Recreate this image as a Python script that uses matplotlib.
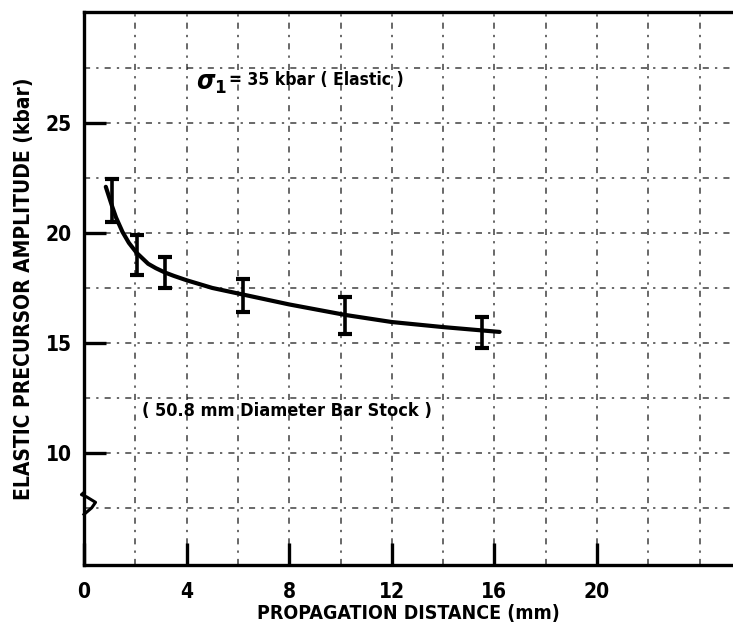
import numpy as np
from matplotlib import pyplot as plt

# measured points with error bars (propagation distance mm, amplitude kbar)
dist = [1.08, 2.05, 3.16, 6.2, 10.18, 15.5]
amp_hi = [22.45, 19.9, 18.9, 17.9, 17.1, 16.2]
amp_lo = [20.5, 18.1, 17.5, 16.4, 15.4, 14.75]

# fitted curve
curve_x = [0.85, 1.1, 1.25, 1.5, 1.75, 2.05, 2.5, 2.8, 3.16, 3.5, 4.0, 5.0, 6.2, 8.0, 10.2, 12.0, 14.0, 16.2]
curve_y = [22.1, 21.2, 20.7, 20.05, 19.55, 19.1, 18.6, 18.4, 18.2, 18.05, 17.85, 17.5, 17.2, 16.75, 16.27, 15.95, 15.72, 15.5]

xticks = [0, 4, 8, 12, 16, 20]
yticks = [10, 15, 20, 25]

plt.rcParams['font.family'] = ['DejaVu Sans']
plt.rcParams['font.stretch'] = 'condensed'
plt.rcParams['font.weight'] = 'bold'
plt.rcParams['axes.labelweight'] = 'bold'
plt.rcParams['mathtext.fontset'] = 'dejavusans'

fig = plt.figure(figsize=(7.33, 6.31), dpi=100)
ax = fig.add_axes([84/733, 66/631, 649/733, 553/631])
ax.set_xlim(0, 25.3)
ax.set_ylim(4.9, 30.05)

# graph paper grid
for gx in np.arange(2, 26, 2):
    ax.axvline(gx, color='black', lw=1.1, ls=(0, (4, 4, 1.5, 4)), alpha=0.75, zorder=1)
for gy in np.arange(7.5, 30, 2.5):
    ax.axhline(gy, color='black', lw=1.1, ls=(0, (4, 4, 1.5, 4)), alpha=0.75, zorder=1)

ax.plot(curve_x, curve_y, color='black', lw=3, zorder=3,
        solid_capstyle='round', solid_joinstyle='round')

dist = np.array(dist)
hi = np.array(amp_hi)
lo = np.array(amp_lo)
mid = (hi + lo) / 2
ax.errorbar(dist, mid, yerr=[mid - lo, hi - mid], fmt='none', ecolor='black',
            elinewidth=2.6, capsize=5, capthick=3, zorder=4)

for side in ['left', 'bottom', 'top']:
    ax.spines[side].set_linewidth(2.4)
ax.spines['right'].set_visible(False)

ax.set_xticks(xticks)
ax.set_yticks(yticks)
ax.tick_params(direction='in', length=16, width=2.4, labelsize=15, pad=9)
ax.tick_params(axis='x', pad=12)
ax.set_xlabel('PROPAGATION DISTANCE (mm)', fontsize=14, labelpad=2)
ax.set_ylabel('ELASTIC PRECURSOR AMPLITUDE (kbar)', fontsize=15, labelpad=8)

ax.text(4.35, 26.8, r'$\sigma_1$', fontsize=19, va='center', ha='left')
ax.text(5.65, 26.95, '= 35 kbar ( Elastic )', fontsize=12.5, va='center', ha='left')
ax.text(2.25, 11.9, '( 50.8 mm Diameter Bar Stock )', fontsize=13, va='center', ha='left')

# axis break on the left spine
ax.plot([0, 0.3, 0.45, 0.1, -0.1, 0], [7.2, 7.5, 7.75, 8.0, 8.1, 8.2], color='black',
        lw=2.2, clip_on=False, zorder=5)

fig.savefig('out.png', dpi=100)
